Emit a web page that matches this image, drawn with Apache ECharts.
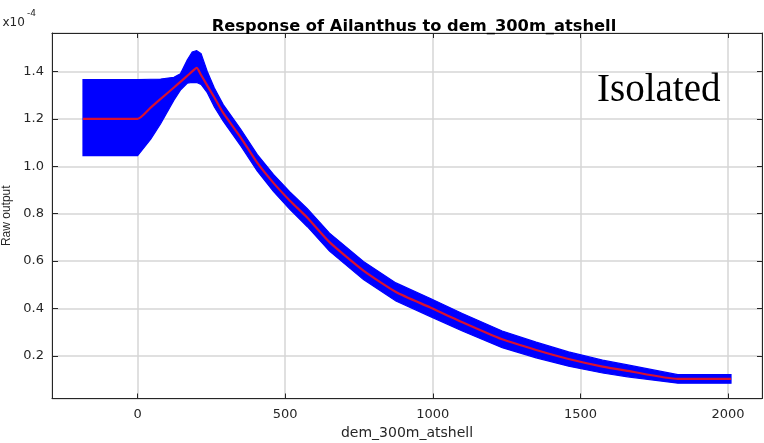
<!DOCTYPE html>
<html>
<head>
<meta charset="utf-8">
<script src="https://cdn.jsdelivr.net/npm/echarts@6/dist/echarts.min.js"></script>
<style>
html,body{margin:0;padding:0;background:#fff;}
#chart{width:764px;height:443px;}
</style>
</head>
<body>
<div id="chart"></div>
<script>
// Values in units of 1e-4
const xs    = [-185, 0, 45, 78, 123, 145, 168, 185, 200, 215, 236, 260, 290, 350, 405, 460, 515, 575, 650, 765, 875, 990, 1100, 1235, 1350, 1460, 1575, 1660, 1830, 2010];
const meanY = [1.200, 1.200, 1.248, 1.284, 1.332, 1.356, 1.381, 1.400, 1.415, 1.385, 1.340, 1.290, 1.225, 1.120, 1.015, 0.930, 0.856, 0.783, 0.680, 0.560, 0.470, 0.405, 0.342, 0.270, 0.225, 0.187, 0.155, 0.137, 0.103, 0.103];
const upperY = [1.365, 1.365, 1.367, 1.368, 1.375, 1.390, 1.448, 1.482, 1.488, 1.475, 1.400, 1.330, 1.260, 1.155, 1.050, 0.966, 0.893, 0.821, 0.718, 0.598, 0.508, 0.443, 0.379, 0.305, 0.258, 0.217, 0.182, 0.162, 0.121, 0.121];
const lowerY = [1.045, 1.045, 1.115, 1.180, 1.279, 1.321, 1.350, 1.354, 1.353, 1.345, 1.310, 1.250, 1.190, 1.085, 0.980, 0.894, 0.819, 0.745, 0.642, 0.522, 0.432, 0.367, 0.305, 0.235, 0.192, 0.157, 0.128, 0.112, 0.085, 0.085];

const titleText = 'Response of Ailanthus to dem_300m_atshell';
const xName = 'dem_300m_atshell';
const yName = 'Raw output';
const annotation = 'Isolated';

const chart = echarts.init(document.getElementById('chart'), null, {renderer: 'canvas'});
const axisColor = '#262626';
const gridColor = '#d6d6d6';
const labelFont = 'DejaVu Sans';

const bandData = xs.map((x, i) => [x, upperY[i], lowerY[i]]);
const meanData = xs.map((x, i) => [x, meanY[i]]);

const option = {
  animation: false,
  backgroundColor: '#fff',
  title: {
    text: titleText,
    left: 409,
    top: 13,
    textAlign: 'center',
    textStyle: {fontFamily: 'DejaVu Sans', fontWeight: 'bold', fontSize: 16.3, color: '#000', lineHeight: 18}
  },
  grid: {left: 52, right: 2, top: 33, bottom: 44.5, containLabel: false, outerBoundsMode: 'none'},
  xAxis: [{
    type: 'value', min: -290, max: 2115, splitNumber: 5,
    name: xName, nameLocation: 'middle', nameGap: 24,
    nameTextStyle: {fontFamily: labelFont, fontSize: 14, color: axisColor},
    axisLine: {show: true, onZero: false, lineStyle: {color: axisColor, width: 1}},
    axisTick: {show: true, inside: true, length: 5, lineStyle: {color: axisColor}},
    axisLabel: {fontFamily: labelFont, fontSize: 13, color: axisColor, margin: 10, showMinLabel: false, showMaxLabel: false,
      formatter: v => String(v)},
    splitLine: {show: true, lineStyle: {color: gridColor, width: 1.5}}
  }, {
    type: 'value', min: -290, max: 2115, splitNumber: 5, position: 'top',
    axisLine: {show: true, onZero: false, lineStyle: {color: axisColor, width: 1}},
    axisTick: {show: true, inside: true, length: 5, lineStyle: {color: axisColor}},
    axisLabel: {show: false},
    splitLine: {show: false}
  }],
  yAxis: [{
    type: 'value', min: 0.0205, max: 1.562, splitNumber: 8,
    name: yName, nameLocation: 'middle', nameGap: 33, nameRotate: 90,
    nameTextStyle: {fontFamily: 'Liberation Sans', fontSize: 12, color: axisColor},
    axisLine: {show: true, onZero: false, lineStyle: {color: axisColor, width: 1}},
    axisTick: {show: true, inside: true, length: 6, lineStyle: {color: axisColor}},
    axisLabel: {fontFamily: labelFont, fontSize: 13, color: axisColor, margin: 8, showMinLabel: false, showMaxLabel: false,
      formatter: v => v.toFixed(1)},
    splitLine: {show: true, lineStyle: {color: gridColor, width: 1.5}}
  }, {
    type: 'value', min: 0.0205, max: 1.562, splitNumber: 8, position: 'right',
    axisLine: {show: true, onZero: false, lineStyle: {color: axisColor, width: 1}},
    axisTick: {show: true, inside: true, length: 5, lineStyle: {color: axisColor}},
    axisLabel: {show: false},
    splitLine: {show: false}
  }],
  series: [{
    type: 'custom',
    coordinateSystem: 'cartesian2d',
    xAxisIndex: 0, yAxisIndex: 0,
    data: bandData,
    encode: {x: 0, y: [1, 2]},
    z: 2,
    renderItem: function (params, api) {
      if (params.dataIndex !== 0) return null;
      const pts = [];
      for (let i = 0; i < xs.length; i++) pts.push(api.coord([xs[i], upperY[i]]));
      for (let i = xs.length - 1; i >= 0; i--) pts.push(api.coord([xs[i], lowerY[i]]));
      return {type: 'polygon', shape: {points: pts}, style: {fill: '#0000ff', stroke: '#0000ff', lineWidth: 1.2}};
    }
  }, {
    type: 'line',
    xAxisIndex: 0, yAxisIndex: 0,
    data: meanData,
    symbol: 'none',
    smooth: 0.2,
    z: 3,
    lineStyle: {color: '#d81030', width: 2.2}
  }],
  graphic: [
    {type: 'text', left: 2.5, top: 17, z: 10, style: {text: 'x10', font: '12px "DejaVu Sans"', fill: axisColor}},
    {type: 'text', left: 27, top: 9.5, z: 10, style: {text: '-4', font: '9px "DejaVu Sans"', fill: axisColor}},
    {type: 'text', left: 597, top: 71, z: 10, style: {text: annotation, font: '39px "Liberation Serif"', fill: '#000'}}
  ]
};
chart.setOption(option);
</script>
</body>
</html>
